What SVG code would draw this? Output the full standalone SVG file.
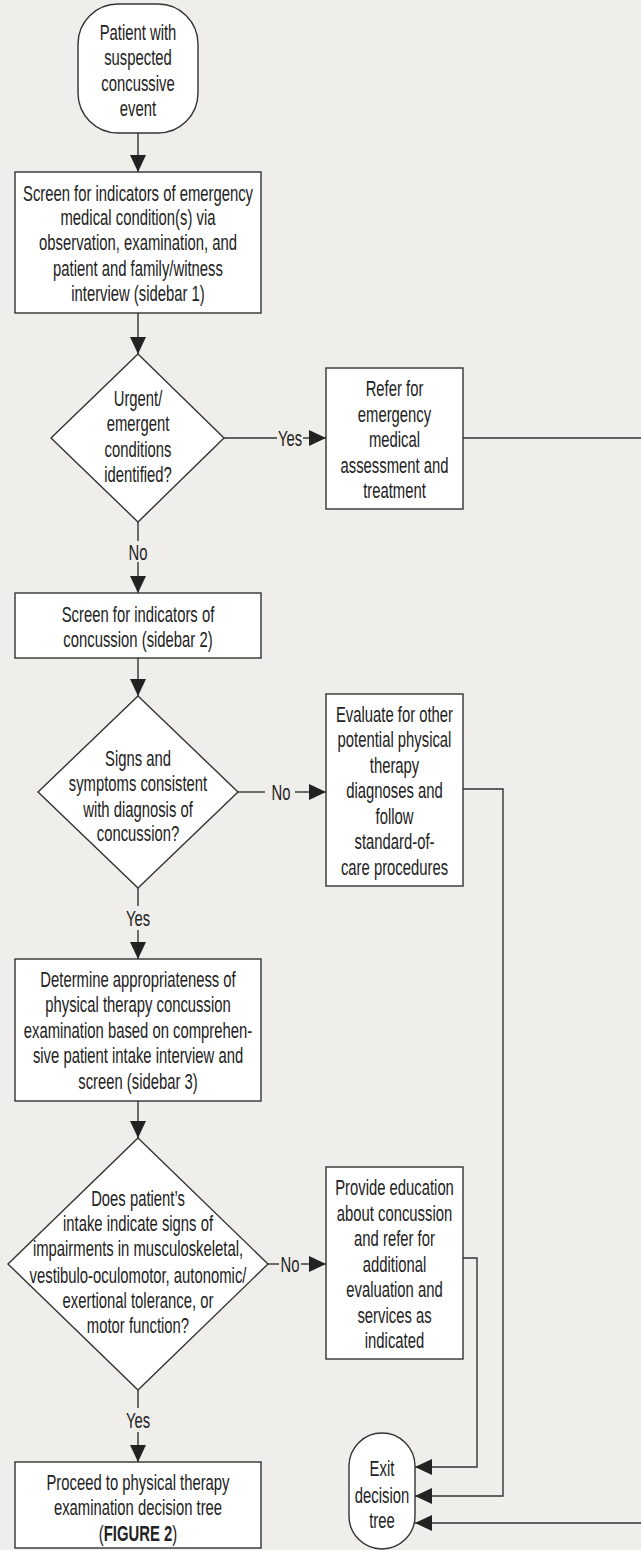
<svg xmlns="http://www.w3.org/2000/svg" width="641" height="1550" viewBox="0 0 641 1550">
<style>
.bg{fill:#efeeea}
.n{fill:#ffffff;stroke:#333333;stroke-width:1.4}
.c{fill:none;stroke:#333333;stroke-width:1.4}
text{font-family:"Liberation Sans",Arial,sans-serif;font-size:21.5px;fill:#222222;text-anchor:middle}
.b{font-weight:bold}
</style>
<defs>
<marker id="ah" viewBox="0 0 17 16" refX="17" refY="8" markerWidth="17" markerHeight="16" markerUnits="userSpaceOnUse" orient="auto">
<path d="M0,0 L17,8 L0,16 Z" fill="#222222"/>
</marker>
</defs>
<rect class="bg" x="0" y="0" width="641" height="1550"/>
<g id="connectors">
<line class="c" x1="138" y1="133" x2="138" y2="172" marker-end="url(#ah)"/>
<line class="c" x1="138" y1="313" x2="138" y2="354" marker-end="url(#ah)"/>
<line class="c" x1="224" y1="438" x2="277" y2="438"/>
<line class="c" x1="303" y1="438" x2="326" y2="438" marker-end="url(#ah)"/>
<polyline class="c" points="463,438 650,438 650,1523 415,1523" marker-end="url(#ah)"/>
<line class="c" x1="138" y1="522" x2="138" y2="541"/>
<line class="c" x1="138" y1="562" x2="138" y2="593" marker-end="url(#ah)"/>
<line class="c" x1="138" y1="658" x2="138" y2="696" marker-end="url(#ah)"/>
<line class="c" x1="238" y1="792" x2="265" y2="792"/>
<line class="c" x1="295" y1="792" x2="326" y2="792" marker-end="url(#ah)"/>
<polyline class="c" points="463,789 503,789 503,1496 415,1496" marker-end="url(#ah)"/>
<line class="c" x1="138" y1="888" x2="138" y2="906"/>
<line class="c" x1="138" y1="930" x2="138" y2="959" marker-end="url(#ah)"/>
<line class="c" x1="138" y1="1101" x2="138" y2="1138" marker-end="url(#ah)"/>
<line class="c" x1="268" y1="1264" x2="279" y2="1264"/>
<line class="c" x1="301" y1="1264" x2="326" y2="1264" marker-end="url(#ah)"/>
<polyline class="c" points="463,1258 477,1258 477,1467 415,1467" marker-end="url(#ah)"/>
<line class="c" x1="138" y1="1390" x2="138" y2="1408"/>
<line class="c" x1="138" y1="1432" x2="138" y2="1462" marker-end="url(#ah)"/>
<g transform="matrix(0.69,0,0,1,89.9,0)"><text x="290" y="446">Yes</text><text x="290" y="1272">No</text></g>
<g transform="matrix(0.69,0,0,1,87.11,0)"><text x="281" y="800">No</text></g>
<g transform="matrix(0.69,0,0,1,42.78,0)"><text x="138" y="560">No</text><text x="138" y="926">Yes</text><text x="138" y="1428">Yes</text></g>
</g>
<g id="start">
<rect class="n" x="78" y="4" width="120" height="129" rx="40" ry="40"/>
<g transform="matrix(0.69,0,0,1,42.78,0)">
<text x="138" y="40">Patient with</text>
<text x="138" y="65">suspected</text>
<text x="138" y="91">concussive</text>
<text x="138" y="116">event</text>
</g>
</g>
<g id="screen1">
<rect class="n" x="15" y="172" width="246" height="141"/>
<g transform="matrix(0.69,0,0,1,42.78,0)">
<text x="138" y="201">Screen for indicators of emergency</text>
<text x="138" y="225">medical condition(s) via</text>
<text x="138" y="250">observation, examination, and</text>
<text x="138" y="276">patient and family/witness</text>
<text x="138" y="301">interview (sidebar 1)</text>
</g>
</g>
<g id="urgent">
<polygon class="n" points="138,354 224,438 138,522 51,438"/>
<g transform="matrix(0.69,0,0,1,42.78,0)">
<text x="138" y="406">Urgent/</text>
<text x="138" y="431">emergent</text>
<text x="138" y="457">conditions</text>
<text x="138" y="482">identified?</text>
</g>
</g>
<g id="refer">
<rect class="n" x="326" y="368" width="137" height="141"/>
<g transform="matrix(0.69,0,0,1,122.3,0)">
<text x="394.5" y="396">Refer for</text>
<text x="394.5" y="422">emergency</text>
<text x="394.5" y="447">medical</text>
<text x="394.5" y="473">assessment and</text>
<text x="394.5" y="498">treatment</text>
</g>
</g>
<g id="screen2">
<rect class="n" x="15" y="593" width="246" height="65"/>
<g transform="matrix(0.69,0,0,1,42.78,0)">
<text x="138" y="622">Screen for indicators of</text>
<text x="138" y="647">concussion (sidebar 2)</text>
</g>
</g>
<g id="signs">
<polygon class="n" points="138,696 238,792 138,888 38,792"/>
<g transform="matrix(0.69,0,0,1,42.78,0)">
<text x="138" y="766">Signs and</text>
<text x="138" y="791">symptoms consistent</text>
<text x="138" y="817">with diagnosis of</text>
<text x="138" y="841">concussion?</text>
</g>
</g>
<g id="evaluate">
<rect class="n" x="326" y="694" width="137" height="192"/>
<g transform="matrix(0.69,0,0,1,122.3,0)">
<text x="394.5" y="722">Evaluate for other</text>
<text x="394.5" y="747">potential physical</text>
<text x="394.5" y="773">therapy</text>
<text x="394.5" y="798">diagnoses and</text>
<text x="394.5" y="824">follow</text>
<text x="394.5" y="849">standard-of-</text>
<text x="394.5" y="875">care procedures</text>
</g>
</g>
<g id="determine">
<rect class="n" x="15" y="959" width="246" height="142"/>
<g transform="matrix(0.69,0,0,1,42.78,0)">
<text x="138" y="987">Determine appropriateness of</text>
<text x="138" y="1012">physical therapy concussion</text>
<text x="138" y="1038">examination based on comprehen-</text>
<text x="138" y="1063">sive patient intake interview and</text>
<text x="138" y="1089">screen (sidebar 3)</text>
</g>
</g>
<g id="intake">
<polygon class="n" points="138,1138 268,1264 138,1390 8,1264"/>
<g transform="matrix(0.69,0,0,1,42.78,0)">
<text x="138" y="1206">Does patient’s</text>
<text x="138" y="1231">intake indicate signs of</text>
<text x="138" y="1256">impairments in musculoskeletal,</text>
<text x="138" y="1283">vestibulo-oculomotor, autonomic/</text>
<text x="138" y="1308">exertional tolerance, or</text>
<text x="138" y="1333">motor function?</text>
</g>
</g>
<g id="provide">
<rect class="n" x="326" y="1167" width="137" height="192"/>
<g transform="matrix(0.69,0,0,1,122.3,0)">
<text x="394.5" y="1195">Provide education</text>
<text x="394.5" y="1221">about concussion</text>
<text x="394.5" y="1246">and refer for</text>
<text x="394.5" y="1272">additional</text>
<text x="394.5" y="1297">evaluation and</text>
<text x="394.5" y="1323">services as</text>
<text x="394.5" y="1348">indicated</text>
</g>
</g>
<g id="proceed">
<rect class="n" x="15" y="1462" width="246" height="86"/>
<g transform="matrix(0.69,0,0,1,42.78,0)">
<text x="138" y="1490">Proceed to physical therapy</text>
<text x="138" y="1515">examination decision tree</text>
<text x="138" y="1541">(<tspan class="b">FIGURE 2</tspan>)</text>
</g>
</g>
<g id="exit">
<rect class="n" x="349" y="1433" width="66" height="116" rx="33" ry="33"/>
<g transform="matrix(0.69,0,0,1,118.42,0)">
<text x="382" y="1476">Exit</text>
<text x="382" y="1503">decision</text>
<text x="382" y="1528">tree</text>
</g>
</g>
</svg>
